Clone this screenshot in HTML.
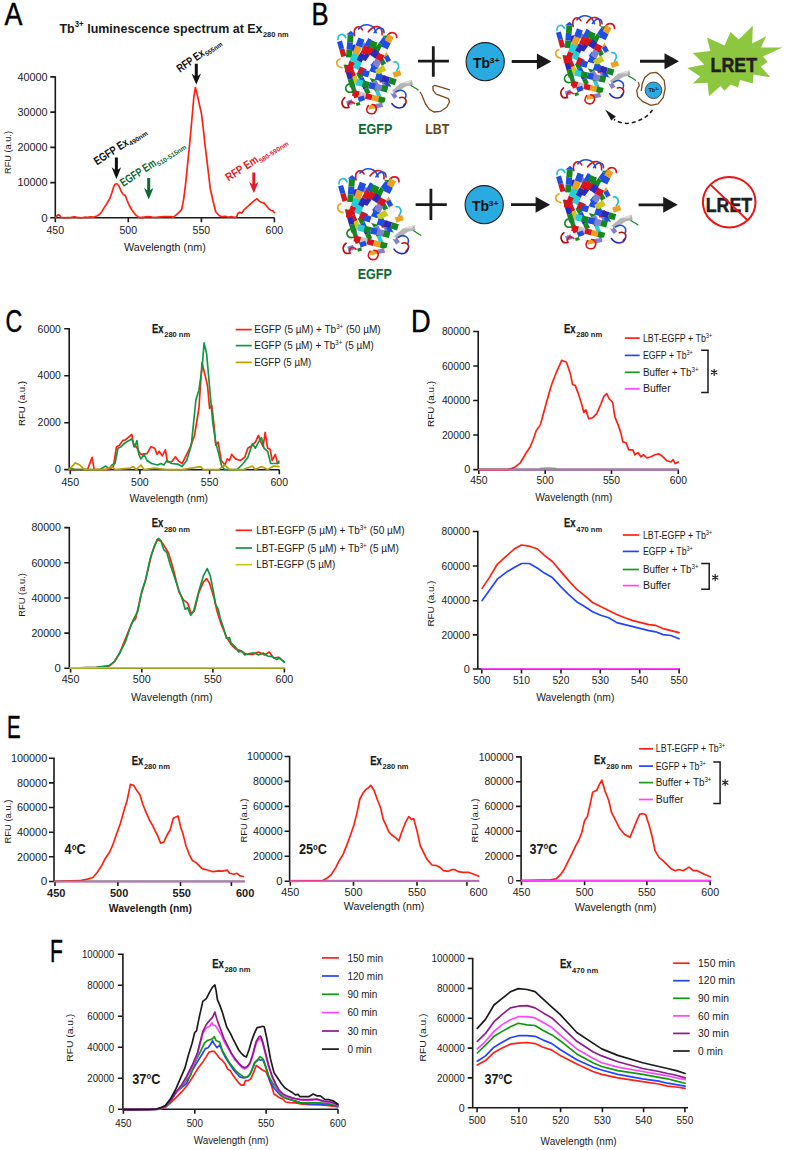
<!DOCTYPE html>
<html><head><meta charset="utf-8"><style>
html,body{margin:0;padding:0;background:#fff;}
svg{display:block;font-family:"Liberation Sans", sans-serif;}
</style></head><body>
<svg width="786" height="1150" viewBox="0 0 786 1150" fill="#1a1a1a">
<rect width="786" height="1150" fill="#fff"/>
<text x="0" y="0" font-size="32" stroke="#000" stroke-width="0.45" fill="#000" transform="translate(4.4,25.18) scale(0.84,0.986)">A</text>
<text x="59.5" y="32.6" font-size="13.4" font-weight="bold" textLength="203" lengthAdjust="spacingAndGlyphs">Tb<tspan font-size="8.5" dy="-5.4">3+</tspan><tspan dy="5.4"> luminescence spectrum at Ex</tspan></text>
<text x="263" y="37" font-size="7.5" font-weight="bold" textLength="25.5" lengthAdjust="spacingAndGlyphs">280 nm</text>
<path d="M55.3,76.2 L55.3,217.8 L274.4,217.8 M50.3,217.8 L55.3,217.8 M50.3,182.6 L55.3,182.6 M50.3,147.4 L55.3,147.4 M50.3,112.1 L55.3,112.1 M50.3,76.9 L55.3,76.9 M55.3,217.8 L55.3,222.3 M128.3,217.8 L128.3,222.3 M201.4,217.8 L201.4,222.3 M274.4,217.8 L274.4,222.3" fill="none" stroke="#1a1a1a" stroke-width="1.6"/>
<text x="47.6" y="221.5" font-size="10.3" text-anchor="end" textLength="6.4" lengthAdjust="spacingAndGlyphs" >0</text>
<text x="47.6" y="186.3" font-size="10.3" text-anchor="end" textLength="30.1" lengthAdjust="spacingAndGlyphs" >10000</text>
<text x="47.6" y="151.1" font-size="10.3" text-anchor="end" textLength="30.1" lengthAdjust="spacingAndGlyphs" >20000</text>
<text x="47.6" y="115.8" font-size="10.3" text-anchor="end" textLength="30.1" lengthAdjust="spacingAndGlyphs" >30000</text>
<text x="47.6" y="80.6" font-size="10.3" text-anchor="end" textLength="30.1" lengthAdjust="spacingAndGlyphs" >40000</text>
<text x="55.3" y="233.5" font-size="10.3" text-anchor="middle" textLength="17.6" lengthAdjust="spacingAndGlyphs" >450</text>
<text x="128.3" y="233.5" font-size="10.3" text-anchor="middle" textLength="17.6" lengthAdjust="spacingAndGlyphs" >500</text>
<text x="201.4" y="233.5" font-size="10.3" text-anchor="middle" textLength="17.6" lengthAdjust="spacingAndGlyphs" >550</text>
<text x="274.4" y="233.5" font-size="10.3" text-anchor="middle" textLength="17.6" lengthAdjust="spacingAndGlyphs" >600</text>
<text x="0" y="0" font-size="9.8" text-anchor="middle" textLength="43" lengthAdjust="spacingAndGlyphs" transform="translate(11.0,152.5) rotate(-90)">RFU (a.u.)</text>
<text x="164.9" y="250.6" font-size="10.4" text-anchor="middle" textLength="81.7" lengthAdjust="spacingAndGlyphs" >Wavelength (nm)</text>
<polyline points="55.4,217.8 57.0,215.7 58.4,214.7 59.8,215.5 61.1,217.2 63.1,217.8 71.2,217.4 74.3,216.7 77.4,217.4 81.4,217.8 84.5,217.2 87.5,217.4 90.6,216.9 93.6,217.2 97.3,215.7 99.7,214.3 101.8,211.7 104.2,207.6 106.9,203.5 109.9,198.4 112.0,192.3 113.6,187.2 115.0,184.2 117.0,183.8 119.1,186.2 121.1,191.3 123.2,194.4 125.2,195.4 127.2,200.5 129.3,205.5 132.3,210.6 135.4,214.7 138.4,217.2 142.5,217.8 142.0,217.4 148.1,216.7 152.2,217.2 156.3,217.4 160.4,216.9 164.4,216.7 170.5,216.7 173.6,217.2 177.7,213.7 181.7,209.6 183.8,198.4 185.8,182.1 187.8,161.8 189.9,141.4 191.9,119.0 193.9,96.6 195.4,87.5 197.0,93.6 199.0,102.7 201.5,113.9 203.1,127.2 205.1,145.5 207.6,165.9 210.2,188.2 212.9,200.5 215.7,211.7 219.4,215.7 222.4,216.7 225.5,216.3 228.5,217.2 231.6,216.7 234.7,217.4 236.7,216.7 237.7,213.7 239.7,212.3 241.8,213.1 243.8,210.2 245.9,208.2 249.9,204.5 254.0,200.9 257.0,198.8 259.7,201.5 262.1,202.5 264.2,203.1 266.2,205.5 268.7,208.6 270.7,210.2 272.7,210.6 274.4,212.7" fill="none" stroke="#ff2010" stroke-width="1.68" stroke-linejoin="round" stroke-linecap="round" />
<path d="M114.9,157.6 L114.9,169.7 L111.7,167.3 Q114.3,174.3 116.4,179.0 Q118.5,174.3 121.1,167.3 L117.9,169.7 L117.9,157.6 Z" fill="#111"/>
<path d="M194.8,63.7 L194.8,76.0 L191.6,73.6 Q194.2,80.2 196.3,84.4 Q198.4,80.2 201.0,73.6 L197.8,76.0 L197.8,63.7 Z" fill="#111"/>
<path d="M147.2,178.1 L147.2,190.2 L144.0,187.8 Q146.6,194.9 148.7,199.6 Q150.8,194.9 153.4,187.8 L150.2,190.2 L150.2,178.1 Z" fill="#0f6a37"/>
<path d="M252.3,172.5 L252.3,184.2 L249.1,181.8 Q251.7,188.6 253.8,193.0 Q255.9,188.6 258.5,181.8 L255.3,184.2 L255.3,172.5 Z" fill="#e31b2c"/>
<g transform="translate(97.0,165.4) rotate(-33)"><text x="0" y="0" font-size="11.5" font-weight="bold" fill="#111" textLength="38.5" lengthAdjust="spacingAndGlyphs">EGFP Ex</text><text x="38.9" y="2.2" font-size="6.6" font-weight="bold" fill="#111" textLength="21" lengthAdjust="spacingAndGlyphs">490nm</text></g>
<g transform="translate(123.3,187.0) rotate(-33)"><text x="0" y="0" font-size="11.5" font-weight="bold" fill="#0f6a37" textLength="40.5" lengthAdjust="spacingAndGlyphs">EGFP Em</text><text x="40.9" y="2.2" font-size="6.6" font-weight="bold" fill="#0f6a37" textLength="33.5" lengthAdjust="spacingAndGlyphs">510-515nm</text></g>
<g transform="translate(180.0,72.8) rotate(-35)"><text x="0" y="0" font-size="11.5" font-weight="bold" fill="#111" textLength="31" lengthAdjust="spacingAndGlyphs">RFP Ex</text><text x="31.4" y="2.2" font-size="6.6" font-weight="bold" fill="#111" textLength="19.5" lengthAdjust="spacingAndGlyphs">555nm</text></g>
<g transform="translate(228.6,181.5) rotate(-33)"><text x="0" y="0" font-size="11.5" font-weight="bold" fill="#e31b2c" textLength="36.5" lengthAdjust="spacingAndGlyphs">RFP Em</text><text x="36.9" y="2.2" font-size="6.6" font-weight="bold" fill="#e31b2c" textLength="34" lengthAdjust="spacingAndGlyphs">580-590nm</text></g>
<text x="0" y="0" font-size="32" stroke="#000" stroke-width="0.45" fill="#000" transform="translate(311.55,25.18) scale(0.8,0.993)">B</text>
<defs><g id="prot"><path d="M20,12 C18,3 25,0 28,6" fill="none" stroke="#d8141e" stroke-width="1.7" stroke-linecap="round"/><path d="M24,5 C30,-2 40,0 42,9" fill="none" stroke="#1f4fe0" stroke-width="1.7" stroke-linecap="round"/><path d="M34,8 C40,0 49,1 48,11" fill="none" stroke="#d8141e" stroke-width="1.7" stroke-linecap="round"/><path d="M40,9 C44,2 50,3 50,9" fill="none" stroke="#1f4fe0" stroke-width="1.7" stroke-linecap="round"/><path d="M3,16 C3,10 9,9 11,14" fill="none" stroke="#22c0d0" stroke-width="1.7" stroke-linecap="round"/><path d="M53,13 C56,7 63,8 63,14" fill="none" stroke="#d8141e" stroke-width="1.7" stroke-linecap="round"/><path d="M5,36 C0,38 1,44 7,45" fill="none" stroke="#f0a020" stroke-width="1.7" stroke-linecap="round"/><path d="M58,40 C64,37 67,43 63,48" fill="none" stroke="#22c0d0" stroke-width="1.7" stroke-linecap="round"/><path d="M10,76 C5,80 7,88 14,86" fill="none" stroke="#b01010" stroke-width="1.7" stroke-linecap="round"/><path d="M14,62 C9,64 10,72 18,70" fill="none" stroke="#14881f" stroke-width="1.7" stroke-linecap="round"/><path d="M28,60 C22,58 18,62 20,68" fill="none" stroke="#d8a080" stroke-width="1.7" stroke-linecap="round"/><polygon points="5.7,31.1 8.5,37.1 13.1,34.9 10.3,28.9" fill="#22d0d8"/><polygon points="8.5,37.1 11.3,43.1 15.9,40.9 13.1,34.9" fill="#14881f"/><polygon points="11.3,43.1 14.1,49.1 18.7,46.9 15.9,40.9" fill="#2a2ab8"/><polygon points="14.1,49.1 16.9,55.1 21.5,52.9 18.7,46.9" fill="#d8141e"/><polygon points="16.9,55.1 19.7,61.1 24.3,58.9 21.5,52.9" fill="#c8c820"/><polygon points="15.7,23.1 18.5,29.1 23.1,26.9 20.3,20.9" fill="#2a2ab8"/><polygon points="18.5,29.1 21.3,35.1 25.9,32.9 23.1,26.9" fill="#22d0d8"/><polygon points="21.3,35.1 24.1,41.1 28.7,38.9 25.9,32.9" fill="#f0a020"/><polygon points="24.1,41.1 26.9,47.1 31.5,44.9 28.7,38.9" fill="#1f4fe0"/><polygon points="26.9,47.1 29.7,53.1 34.3,50.9 31.5,44.9" fill="#f4f4f4"/><polygon points="25.8,21.1 28.8,27.1 33.2,24.9 30.2,18.9" fill="#8080d0"/><polygon points="28.8,27.1 31.8,33.1 36.2,30.9 33.2,24.9" fill="#14881f"/><polygon points="31.8,33.1 34.8,39.1 39.2,36.9 36.2,30.9" fill="#22d0d8"/><polygon points="34.8,39.1 37.8,45.1 42.2,42.9 39.2,36.9" fill="#1f4fe0"/><polygon points="35.8,21.2 38.8,26.7 43.2,24.3 40.2,18.8" fill="#14881f"/><polygon points="38.8,26.7 41.8,32.2 46.2,29.8 43.2,24.3" fill="#1f4fe0"/><polygon points="41.8,32.2 44.8,37.7 49.2,35.3 46.2,29.8" fill="#f4f4f4"/><polygon points="44.8,37.7 47.8,43.2 52.2,40.8 49.2,35.3" fill="#14881f"/><polygon points="43.8,23.2 46.8,28.7 51.2,26.3 48.2,20.8" fill="#f4f4f4"/><polygon points="46.8,28.7 49.8,34.2 54.2,31.8 51.2,26.3" fill="#f0a020"/><polygon points="49.8,34.2 52.8,39.7 57.2,37.3 54.2,31.8" fill="#1f4fe0"/><polygon points="52.8,39.7 55.8,45.2 60.2,42.8 57.2,37.3" fill="#f0a020"/><polygon points="21.7,51.0 24.2,56.5 28.8,54.5 26.3,49.0" fill="#14881f"/><polygon points="24.2,56.5 26.7,62.0 31.3,60.0 28.8,54.5" fill="#1f4fe0"/><polygon points="26.7,62.0 29.2,67.5 33.8,65.5 31.3,60.0" fill="#2a2ab8"/><polygon points="29.2,67.5 31.7,73.0 36.3,71.0 33.8,65.5" fill="#14881f"/><polygon points="31.8,49.2 34.8,54.7 39.2,52.3 36.2,46.8" fill="#f4f4f4"/><polygon points="34.8,54.7 37.8,60.2 42.2,57.8 39.2,52.3" fill="#14881f"/><polygon points="37.8,60.2 40.8,65.7 45.2,63.3 42.2,57.8" fill="#8080d0"/><polygon points="40.8,65.7 43.8,71.2 48.2,68.8 45.2,63.3" fill="#f4f4f4"/><polygon points="41.9,51.3 45.9,58.0 50.1,55.4 46.1,48.7" fill="#14881f"/><polygon points="45.9,58.0 49.9,64.6 54.1,62.0 50.1,55.4" fill="#8080d0"/><polygon points="49.9,64.6 53.9,71.3 58.1,68.7 54.1,62.0" fill="#1f4fe0"/><polygon points="13.9,58.8 16.6,66.1 20.8,64.6 18.1,57.2" fill="#1f4fe0"/><polygon points="16.6,66.1 19.2,73.4 23.4,71.9 20.8,64.6" fill="#22d0d8"/><polygon points="19.2,73.4 21.9,80.8 26.1,79.2 23.4,71.9" fill="#f4f4f4"/><polygon points="50.1,61.2 53.4,66.5 57.2,64.1 53.9,58.8" fill="#1f4fe0"/><polygon points="53.4,66.5 56.8,71.9 60.6,69.5 57.2,64.1" fill="#14881f"/><polygon points="56.8,71.9 60.1,77.2 63.9,74.8 60.6,69.5" fill="#8080d0"/><polygon points="26.0,83.4 24.0,76.7 20.0,77.9 22.0,84.6" fill="#14881f"/><polygon points="24.0,76.7 22.0,70.1 18.0,71.3 20.0,77.9" fill="#d8141e"/><polygon points="22.0,70.1 20.0,63.4 16.0,64.6 18.0,71.3" fill="#14881f"/><polygon points="49.9,81.2 47.3,74.6 43.4,76.1 46.1,82.8" fill="#f0a020"/><polygon points="47.3,74.6 44.6,67.9 40.7,69.4 43.4,76.1" fill="#22d0d8"/><polygon points="44.6,67.9 41.9,61.2 38.1,62.8 40.7,69.4" fill="#14881f"/><polygon points="20.3,64.0 18.1,56.2 13.1,57.6 15.3,65.4" fill="#14881f"/><polygon points="18.1,56.2 15.9,48.4 10.9,49.8 13.1,57.6" fill="#2a2ab8"/><polygon points="15.9,48.4 13.7,40.5 8.7,42.0 10.9,49.8" fill="#14881f"/><polygon points="13.7,40.5 11.5,32.7 6.5,34.1 8.7,42.0" fill="#f4f4f4"/><polygon points="11.5,32.7 9.3,24.9 4.3,26.3 6.5,34.1" fill="#d8141e"/><polygon points="9.3,24.9 7.1,17.1 2.1,18.5 4.3,26.3" fill="#1f4fe0"/><polygon points="16.0,50.2 16.6,42.4 10.6,42.0 10.0,49.8" fill="#d8141e"/><polygon points="16.6,42.4 17.2,34.6 11.2,34.2 10.6,42.0" fill="#f4f4f4"/><polygon points="17.2,34.6 17.8,26.8 11.8,26.4 11.2,34.2" fill="#14881f"/><polygon points="17.8,26.8 18.4,19.0 12.4,18.6 11.8,26.4" fill="#1f4fe0"/><polygon points="18.4,19.0 19.0,11.2 13.0,10.8 12.4,18.6" fill="#14881f"/><polygon points="20.5,11.3 16.3,7.0 11.5,10.7" fill="#1f4fe0"/><polygon points="18.1,48.2 21.1,40.2 14.9,37.8 11.9,45.8" fill="#d8141e"/><polygon points="21.1,40.2 24.1,32.2 17.9,29.8 14.9,37.8" fill="#22d0d8"/><polygon points="24.1,32.2 27.1,24.2 20.9,21.8 17.9,29.8" fill="#f0a020"/><polygon points="27.1,24.2 30.1,16.2 23.9,13.8 20.9,21.8" fill="#1f4fe0"/><polygon points="24.0,47.6 28.0,40.1 22.0,36.9 18.0,44.4" fill="#22d0d8"/><polygon points="28.0,40.1 32.0,32.6 26.0,29.4 22.0,36.9" fill="#2a2ab8"/><polygon points="32.0,32.6 36.0,25.1 30.0,21.9 26.0,29.4" fill="#d8141e"/><polygon points="36.0,25.1 40.0,17.6 34.0,14.4 30.0,21.9" fill="#1f4fe0"/><polygon points="29.3,53.4 32.2,46.5 25.5,43.8 22.7,50.6" fill="#d8141e"/><polygon points="32.2,46.5 35.0,39.7 28.3,37.0 25.5,43.8" fill="#f4f4f4"/><polygon points="35.0,39.7 37.8,32.9 31.2,30.1 28.3,37.0" fill="#2a2ab8"/><polygon points="37.8,32.9 40.7,26.0 34.0,23.3 31.2,30.1" fill="#d8141e"/><polygon points="40.7,26.0 43.5,19.2 36.8,16.5 34.0,23.3" fill="#14881f"/><polygon points="43.5,19.2 46.3,12.4 39.7,9.6 36.8,16.5" fill="#f4f4f4"/><polygon points="36.7,41.9 41.2,35.7 35.8,31.8 31.3,38.1" fill="#f4f4f4"/><polygon points="41.2,35.7 45.7,29.4 40.3,25.6 35.8,31.8" fill="#2a2ab8"/><polygon points="45.7,29.4 50.2,23.2 44.8,19.3 40.3,25.6" fill="#14881f"/><polygon points="50.2,23.2 54.7,16.9 49.3,13.1 44.8,19.3" fill="#1f4fe0"/><polygon points="56.0,17.9 54.3,11.8 48.0,12.1" fill="#14881f"/><polygon points="41.0,51.5 44.2,45.2 38.1,42.1 35.0,48.5" fill="#1f4fe0"/><polygon points="44.2,45.2 47.4,38.9 41.3,35.8 38.1,42.1" fill="#8080d0"/><polygon points="47.4,38.9 50.5,32.5 44.5,29.5 41.3,35.8" fill="#d8141e"/><polygon points="50.5,32.5 53.7,26.2 47.6,23.1 44.5,29.5" fill="#f4f4f4"/><polygon points="53.7,26.2 56.9,19.9 50.8,16.8 47.6,23.1" fill="#1f4fe0"/><polygon points="56.9,19.9 60.0,13.5 54.0,10.5 50.8,16.8" fill="#f0a020"/><polygon points="43.5,52.7 52.5,47.7 49.5,42.3 40.5,47.3" fill="#c8c820"/><polygon points="52.5,47.7 61.5,42.7 58.5,37.3 49.5,42.3" fill="#f4f4f4"/><polygon points="45.9,60.6 53.3,57.9 51.4,52.7 44.1,55.4" fill="#d8141e"/><polygon points="53.3,57.9 60.6,55.3 58.7,50.1 51.4,52.7" fill="#f4f4f4"/><polygon points="60.6,55.3 67.9,52.6 66.1,47.4 58.7,50.1" fill="#f0a020"/><polygon points="27.1,53.1 33.9,55.1 35.7,48.9 28.9,46.9" fill="#1f4fe0"/><polygon points="33.9,55.1 40.7,57.1 42.5,50.9 35.7,48.9" fill="#f4f4f4"/><polygon points="40.7,57.1 47.5,59.1 49.3,52.9 42.5,50.9" fill="#1f4fe0"/><polygon points="47.5,59.1 54.3,61.1 56.1,54.9 49.3,52.9" fill="#2a2ab8"/><polygon points="54.3,61.1 61.1,63.1 62.9,56.9 56.1,54.9" fill="#14881f"/><polygon points="21.3,63.2 27.6,64.7 29.1,58.3 22.7,56.8" fill="#22d0d8"/><polygon points="27.6,64.7 33.9,66.2 35.4,59.8 29.1,58.3" fill="#14881f"/><polygon points="33.9,66.2 40.3,67.7 41.7,61.3 35.4,59.8" fill="#1f4fe0"/><polygon points="40.3,67.7 46.6,69.2 48.1,62.8 41.7,61.3" fill="#8080d0"/><polygon points="46.6,69.2 52.9,70.7 54.4,64.3 48.1,62.8" fill="#14881f"/><polygon points="52.9,70.7 59.3,72.2 60.7,65.8 54.4,64.3" fill="#f4f4f4"/><polygon points="17.3,73.9 23.9,75.5 25.3,69.7 18.7,68.1" fill="#d8141e"/><polygon points="23.9,75.5 30.5,77.1 31.9,71.3 25.3,69.7" fill="#c4c4c4"/><polygon points="30.5,77.1 37.1,78.7 38.5,72.9 31.9,71.3" fill="#d8141e"/><polygon points="37.1,78.7 43.7,80.3 45.1,74.5 38.5,72.9" fill="#f0a020"/><polygon points="43.7,80.3 50.3,81.9 51.7,76.1 45.1,74.5" fill="#14881f"/><polygon points="12.8,84.4 18.8,82.4 17.2,77.6 11.2,79.6" fill="#8080d0"/><polygon points="18.8,82.4 24.8,80.4 23.2,75.6 17.2,77.6" fill="#f4f4f4"/><polygon points="24.8,80.4 30.8,78.4 29.2,73.6 23.2,75.6" fill="#1f4fe0"/><polygon points="34.4,88.2 41.7,86.9 40.9,82.5 33.6,83.8" fill="#f0a020"/><polygon points="41.7,86.9 49.1,85.5 48.3,81.1 40.9,82.5" fill="#8080d0"/><polygon points="49.1,85.5 56.4,84.2 55.6,79.8 48.3,81.1" fill="#f4f4f4"/><path d="M58,69 L67,61 L78.5,57.5 L79.5,63 L72,64.5 L63,71 Z" fill="#b4b4b4"/><path d="M67,61 L78.5,57.5 L76,61 Z" fill="#dcdcdc"/><path d="M77.2,63.2 C79,64.5 82,66 85.2,68.2" fill="none" stroke="#14881f" stroke-width="1.2"/><path d="M34,84 C30,90 34,94 40,92 C44,88 42,83 38,83" fill="none" stroke="#d8141e" stroke-width="1.6" stroke-linecap="round"/><path d="M20,82 C16,78 12,82 14,86" fill="none" stroke="#d8141e" stroke-width="1.6" stroke-linecap="round"/><path d="M62,70 C68,66 74,70 72,76" fill="none" stroke="#1f4fe0" stroke-width="1.6" stroke-linecap="round"/><path d="M66,76 C72,74 75,80 70,84" fill="none" stroke="#b01010" stroke-width="1.6" stroke-linecap="round"/><path d="M58,82 C62,88 70,88 72,82" fill="none" stroke="#2a2ab8" stroke-width="1.6" stroke-linecap="round"/></g></defs>
<use href="#prot" transform="translate(335,24) scale(0.98,0.97)"/>
<polyline points="420.2,92.2 421.7,94.8 425.5,104.0 429.4,109.4 433.9,112.0 440.8,111.3 446.9,107.0 449.6,101.7 448.4,98.7 442.3,96.4 436.2,94.1 433.2,90.6 432.8,86.5 434.7,85.3 440.8,87.2 449.6,89.9" fill="none" stroke="#7b4a1a" stroke-width="1.3" stroke-linejoin="round" stroke-linecap="round"/>
<path d="M418,61.2 H448.9 M433.3,46.3 V76.7" stroke="#1a1a1a" stroke-width="2.8"/>
<circle cx="485.2" cy="61.7" r="19.1" fill="#29abe2" stroke="#231f20" stroke-width="1.1"/>
<text x="472.9" y="67.8" font-size="13.8" font-weight="bold" fill="#111" textLength="17" lengthAdjust="spacingAndGlyphs">Tb</text>
<text x="489.6" y="62.9" font-size="7.8" font-weight="bold" fill="#111" textLength="10" lengthAdjust="spacingAndGlyphs">3+</text>
<path d="M511.7,60.0 H536.9 V53.5 L551.4,61.5 L536.9,69.5 V63.0 H511.7 Z" fill="#1a1a1a"/>
<text x="375.3" y="133.6" font-size="14.2" text-anchor="middle" font-weight="bold" fill="#0e6a36" textLength="34.3" lengthAdjust="spacingAndGlyphs" >EGFP</text>
<text x="437.3" y="133.6" font-size="14.2" text-anchor="middle" font-weight="bold" fill="#6e4318" textLength="24.0" lengthAdjust="spacingAndGlyphs" >LBT</text>
<use href="#prot" transform="translate(554,15) scale(0.96,0.96)"/>
<polyline points="638.3,82.4 639.3,85.4 636.7,90.5 637.7,96.6 642.8,101.7 651.0,105.3 658.1,103.8 663.2,97.7 665.2,88.5 664.2,80.4 660.1,75.3 656.1,72.4 650.0,73.2 644.9,77.3 642.3,83.4 641.3,90.5" fill="none" stroke="#7b4a1a" stroke-width="1.3" stroke-linejoin="round" stroke-linecap="round"/>
<circle cx="653.5" cy="90.3" r="8.3" fill="#29abe2" stroke="#231f20" stroke-width="0.7"/>
<text x="648.4" y="92.3" font-size="5.5" font-weight="bold" fill="#111">Tb<tspan font-size="3.5" dy="-2">3+</tspan></text>
<path d="M652.5,109.9 C648,117 640,121 630,123.2 C624,124 618,122 614,119.5" fill="none" stroke="#1a1a1a" stroke-width="1.5" stroke-dasharray="4,3"/>
<path d="M605.2,109.4 L615.9,116.5 L611.3,120.6 Z" fill="#1a1a1a"/>
<path d="M640.0,59.8 H664.5 V53.2 L679.0,61.2 L664.5,69.2 V62.7 H640.0 Z" fill="#1a1a1a"/>
<polygon points="707.0,37.5 724.5,45.6 730.6,31.9 738.7,39.6 752.8,25.7 752.2,43.6 766.3,36.2 760.9,47.6 782.5,47.6 762.9,56.4 767.7,61.8 760.9,66.5 770.4,77.3 753.5,74.6 752.8,83.4 740.0,80.0 738.0,87.4 730.6,84.5 724.5,90.8 720.5,86.1 709.0,96.2 707.6,82.7 692.8,83.4 700.2,76.6 687.4,67.9 704.3,64.5 692.8,53.0 710.3,51.0" fill="#8dc63f"/>
<text x="733.8" y="72.3" font-size="20" text-anchor="middle" font-weight="bold" fill="#231f20" textLength="46.5" lengthAdjust="spacingAndGlyphs" stroke="#231f20" stroke-width="0.5">LRET</text>
<use href="#prot" transform="translate(336,168) scale(1.0,0.99)"/>
<path d="M415.6,204.7 H446.8 M430.9,188.8 V220" stroke="#1a1a1a" stroke-width="2.8"/>
<circle cx="484.2" cy="204.7" r="19.1" fill="#29abe2" stroke="#231f20" stroke-width="1.1"/>
<text x="471.9" y="210.8" font-size="13.8" font-weight="bold" fill="#111" textLength="17" lengthAdjust="spacingAndGlyphs">Tb</text>
<text x="488.6" y="205.9" font-size="7.8" font-weight="bold" fill="#111" textLength="10" lengthAdjust="spacingAndGlyphs">3+</text>
<path d="M511.0,203.2 H535.6 V196.7 L550.1,204.7 L535.6,212.7 V206.1 H511.0 Z" fill="#1a1a1a"/>
<text x="374.8" y="279.3" font-size="14.2" text-anchor="middle" font-weight="bold" fill="#0e6a36" textLength="34.3" lengthAdjust="spacingAndGlyphs" >EGFP</text>
<use href="#prot" transform="translate(554,159) scale(0.99,0.97)"/>
<path d="M638.6,203.4 H663.2 V196.8 L677.7,204.8 L663.2,212.8 V206.2 H638.6 Z" fill="#1a1a1a"/>
<text x="728.9" y="212.3" font-size="21" text-anchor="middle" font-weight="bold" fill="#231f20" textLength="46.5" lengthAdjust="spacingAndGlyphs" stroke="#231f20" stroke-width="0.5">LRET</text>
<ellipse cx="729.2" cy="202.2" rx="26.3" ry="25.2" fill="none" stroke="#f01010" stroke-width="2"/>
<line x1="711" y1="185.1" x2="747.1" y2="219.9" stroke="#f01010" stroke-width="2"/>
<text x="0" y="0" font-size="32" stroke="#000" stroke-width="0.45" fill="#000" transform="translate(5.56,331.98) scale(0.727,0.993)">C</text>
<path d="M69.2,328.1 L69.2,469.8 L279.3,469.8 M64.2,469.6 L69.2,469.6 M64.2,422.7 L69.2,422.7 M64.2,375.7 L69.2,375.7 M64.2,328.8 L69.2,328.8 M70.3,469.8 L70.3,474.3 M139.9,469.8 L139.9,474.3 M209.6,469.8 L209.6,474.3 M279.3,469.8 L279.3,474.3" fill="none" stroke="#1a1a1a" stroke-width="1.6"/>
<text x="60.9" y="473.3" font-size="10.3" text-anchor="end" textLength="6.2" lengthAdjust="spacingAndGlyphs" >0</text>
<text x="60.9" y="426.4" font-size="10.3" text-anchor="end" textLength="23.3" lengthAdjust="spacingAndGlyphs" >2000</text>
<text x="60.9" y="379.4" font-size="10.3" text-anchor="end" textLength="23.3" lengthAdjust="spacingAndGlyphs" >4000</text>
<text x="60.9" y="332.5" font-size="10.3" text-anchor="end" textLength="23.3" lengthAdjust="spacingAndGlyphs" >6000</text>
<text x="70.3" y="485.6" font-size="10.3" text-anchor="middle" textLength="17.6" lengthAdjust="spacingAndGlyphs" >450</text>
<text x="139.9" y="485.6" font-size="10.3" text-anchor="middle" textLength="17.6" lengthAdjust="spacingAndGlyphs" >500</text>
<text x="209.6" y="485.6" font-size="10.3" text-anchor="middle" textLength="17.6" lengthAdjust="spacingAndGlyphs" >550</text>
<text x="279.3" y="485.6" font-size="10.3" text-anchor="middle" textLength="17.6" lengthAdjust="spacingAndGlyphs" >600</text>
<text x="0" y="0" font-size="9.8" text-anchor="middle" textLength="45.2" lengthAdjust="spacingAndGlyphs" transform="translate(24.9,403.5) rotate(-90)">RFU (a.u.)</text>
<text x="168.8" y="501.5" font-size="10.4" text-anchor="middle" textLength="78.5" lengthAdjust="spacingAndGlyphs" >Wavelength (nm)</text>
<text x="152.0" y="332.6" font-size="12.6" font-weight="bold" stroke="#1a1a1a" stroke-width="0.25" textLength="11.6" lengthAdjust="spacingAndGlyphs">Ex</text>
<text x="164.2" y="337.2" font-size="7.6" font-weight="bold" textLength="26" lengthAdjust="spacingAndGlyphs">280 nm</text>
<polyline points="69.2,469.6 87.5,469.6 92.1,457.4 94.2,469.6 108.9,469.6 113.4,466.6 116.5,446.7 119.5,445.2 122.6,440.6 125.6,439.7 131.8,434.5 133.9,446.7 136.3,446.7 138.8,451.3 140.9,454.4 147.0,453.7 151.0,446.7 154.7,448.2 157.1,454.4 159.2,451.3 162.3,455.9 165.3,449.8 167.5,462.0 171.5,462.0 175.4,456.8 178.5,461.1 182.1,463.5 185.2,457.4 189.8,448.2 194.4,436.0 198.9,408.5 202.0,362.7 205.0,375.0 207.5,385.6 209.6,408.5 211.8,405.5 214.2,426.9 215.7,445.2 218.2,442.1 221.2,460.5 224.9,465.0 227.3,458.9 229.5,460.5 231.6,454.4 235.6,458.9 240.2,460.5 244.7,457.4 247.8,448.2 252.4,445.2 255.4,442.1 258.5,435.4 260.9,442.1 263.1,446.7 265.2,432.4 267.6,448.2 270.1,449.2 272.2,460.5 275.3,454.4 277.4,463.5 278.9,462.9" fill="none" stroke="#ff2010" stroke-width="1.68" stroke-linejoin="round" stroke-linecap="round" />
<polyline points="69.2,468.1 75.3,469.6 90.5,469.6 99.7,469.6 105.8,466.0 108.9,469.0 111.9,465.0 115.0,463.5 118.0,448.2 121.1,446.7 124.1,443.7 127.2,441.5 131.8,439.1 134.8,446.7 136.9,440.6 138.8,454.4 140.9,458.9 144.0,454.4 147.0,460.5 151.6,463.5 157.7,465.0 160.8,463.5 163.8,465.0 166.9,460.5 171.5,463.5 177.6,464.1 182.1,466.6 186.7,460.5 191.3,445.2 195.9,400.0 198.9,390.2 202.0,368.9 204.1,342.9 206.6,353.6 209.6,387.2 212.7,422.3 215.7,442.1 218.8,454.4 221.8,466.6 224.9,469.6 231.0,469.6 237.1,469.6 243.2,463.5 247.8,457.4 252.4,443.7 255.4,448.2 258.5,442.1 261.5,437.6 264.0,448.2 267.6,451.3 270.7,463.5 273.7,463.5 277.4,463.5 278.9,461.1" fill="none" stroke="#0a9a40" stroke-width="1.68" stroke-linejoin="round" stroke-linecap="round" />
<polyline points="69.2,469.6 75.3,462.9 79.8,465.0 84.4,469.6 105.8,469.6 111.9,466.6 115.0,469.6 130.2,468.1 133.3,466.6 136.3,469.6 140.9,465.0 144.0,469.6 154.7,468.1 166.9,469.6 182.1,469.6 200.5,466.6 203.5,469.6 218.8,469.6 224.9,465.0 229.5,469.6 243.2,469.6 252.4,466.0 255.4,469.6 261.5,466.6 267.6,469.6 273.7,466.0 278.9,466.6" fill="none" stroke="#b8a000" stroke-width="1.68" stroke-linejoin="round" stroke-linecap="round" />
<line x1="235.7" y1="329.6" x2="251.8" y2="329.6" stroke="#ff2010" stroke-width="1.7"/>
<text x="254.3" y="333.2" font-size="10.3" textLength="126.3" lengthAdjust="spacingAndGlyphs">EGFP (5 µM) + Tb<tspan font-size="6.3" dy="-4">3+</tspan><tspan dy="4"> </tspan> (50 µM)</text>
<line x1="235.7" y1="345.6" x2="251.8" y2="345.6" stroke="#0a9a40" stroke-width="1.7"/>
<text x="254.3" y="349.2" font-size="10.3" textLength="119.5" lengthAdjust="spacingAndGlyphs">EGFP (5 µM) + Tb<tspan font-size="6.3" dy="-4">3+</tspan><tspan dy="4"> </tspan> (5 µM)</text>
<line x1="235.7" y1="362.4" x2="251.8" y2="362.4" stroke="#b8a000" stroke-width="1.7"/>
<text x="254.3" y="366.0" font-size="10.3" textLength="57.0" lengthAdjust="spacingAndGlyphs">EGFP (5 µM)</text>
<path d="M69.3,526.9 L69.3,668.1 L284.4,668.1 M64.3,668.3 L69.3,668.3 M64.3,633.1 L69.3,633.1 M64.3,598.0 L69.3,598.0 M64.3,562.8 L69.3,562.8 M64.3,527.6 L69.3,527.6 M70.6,668.1 L70.6,672.6 M141.8,668.1 L141.8,672.6 M212.9,668.1 L212.9,672.6 M284.4,668.1 L284.4,672.6" fill="none" stroke="#1a1a1a" stroke-width="1.6"/>
<text x="60.9" y="672.0" font-size="10.3" text-anchor="end" textLength="6.3" lengthAdjust="spacingAndGlyphs" >0</text>
<text x="60.9" y="636.8" font-size="10.3" text-anchor="end" textLength="29.5" lengthAdjust="spacingAndGlyphs" >20000</text>
<text x="60.9" y="601.7" font-size="10.3" text-anchor="end" textLength="29.5" lengthAdjust="spacingAndGlyphs" >40000</text>
<text x="60.9" y="566.5" font-size="10.3" text-anchor="end" textLength="29.5" lengthAdjust="spacingAndGlyphs" >60000</text>
<text x="60.9" y="531.3" font-size="10.3" text-anchor="end" textLength="29.5" lengthAdjust="spacingAndGlyphs" >80000</text>
<text x="70.6" y="683.3" font-size="10.3" text-anchor="middle" textLength="17.9" lengthAdjust="spacingAndGlyphs" >450</text>
<text x="141.8" y="683.3" font-size="10.3" text-anchor="middle" textLength="17.9" lengthAdjust="spacingAndGlyphs" >500</text>
<text x="212.9" y="683.3" font-size="10.3" text-anchor="middle" textLength="17.9" lengthAdjust="spacingAndGlyphs" >550</text>
<text x="284.4" y="683.3" font-size="10.3" text-anchor="middle" textLength="17.9" lengthAdjust="spacingAndGlyphs" >600</text>
<text x="0" y="0" font-size="9.8" text-anchor="middle" textLength="43.5" lengthAdjust="spacingAndGlyphs" transform="translate(25.1,594.9) rotate(-90)">RFU (a.u.)</text>
<text x="171.8" y="701.4" font-size="10.4" text-anchor="middle" textLength="81.6" lengthAdjust="spacingAndGlyphs" >Wavelength (nm)</text>
<text x="151.7" y="527.0" font-size="12.6" font-weight="bold" stroke="#1a1a1a" stroke-width="0.25" textLength="11.6" lengthAdjust="spacingAndGlyphs">Ex</text>
<text x="163.9" y="531.6" font-size="7.6" font-weight="bold" textLength="26" lengthAdjust="spacingAndGlyphs">280 nm</text>
<polyline points="70.7,668.2 96.6,667.3 108.9,666.3 113.4,662.7 119.5,653.5 125.6,638.2 131.8,623.0 135.7,618.4 140.9,595.5 145.5,580.2 151.6,554.3 157.1,539.6 160.8,541.1 163.8,545.1 168.4,552.7 173.0,568.0 179.1,592.4 183.7,600.1 187.6,603.1 191.3,613.8 194.4,610.8 198.9,592.4 203.5,581.8 206.6,578.7 209.6,583.3 214.2,598.5 217.3,612.3 221.8,626.0 226.4,636.7 231.0,644.4 235.6,648.9 240.2,650.5 246.3,654.1 252.4,654.4 258.5,652.0 264.6,655.0 269.2,652.0 273.7,658.1 278.3,657.2 284.4,662.1" fill="none" stroke="#ff2010" stroke-width="1.68" stroke-linejoin="round" stroke-linecap="round" />
<polyline points="70.7,668.2 96.6,667.3 108.9,665.7 115.0,661.1 121.1,650.5 125.6,641.3 130.2,627.6 133.3,619.9 137.9,610.8 141.8,590.9 145.5,580.2 150.1,558.9 154.7,545.1 158.3,538.4 160.8,540.5 163.8,549.7 166.9,552.7 169.9,563.4 174.5,577.2 179.1,590.9 182.1,598.5 185.2,609.2 187.6,607.7 190.7,615.3 193.7,610.8 198.9,590.9 203.5,575.6 207.2,568.6 210.2,575.6 213.3,590.9 215.7,604.7 218.2,609.2 220.3,618.4 223.4,627.6 226.4,638.2 229.5,637.6 231.0,642.8 235.6,647.4 238.6,652.0 241.7,651.1 244.7,655.0 249.3,653.5 253.9,652.9 258.5,655.0 263.1,652.9 267.6,656.0 272.2,656.6 276.8,659.6 279.8,658.1 284.4,662.1" fill="none" stroke="#0a9a40" stroke-width="1.68" stroke-linejoin="round" stroke-linecap="round" />
<polyline points="70.0,667.9 284.4,667.9" fill="none" stroke="#c8c820" stroke-width="1.79" stroke-linejoin="round" stroke-linecap="round" />
<line x1="235.6" y1="530.3" x2="252.0" y2="530.3" stroke="#ff2010" stroke-width="1.7"/>
<text x="256.2" y="533.9" font-size="10.3" textLength="148.4" lengthAdjust="spacingAndGlyphs">LBT-EGFP (5 µM) + Tb<tspan font-size="6.3" dy="-4">3+</tspan><tspan dy="4"> </tspan> (50 µM)</text>
<line x1="235.6" y1="548.0" x2="252.0" y2="548.0" stroke="#0a9a40" stroke-width="1.7"/>
<text x="256.2" y="551.6" font-size="10.3" textLength="142.6" lengthAdjust="spacingAndGlyphs">LBT-EGFP (5 µM) + Tb<tspan font-size="6.3" dy="-4">3+</tspan><tspan dy="4"> </tspan> (5 µM)</text>
<line x1="235.6" y1="564.7" x2="252.0" y2="564.7" stroke="#c8c820" stroke-width="1.7"/>
<text x="256.2" y="568.3" font-size="10.3" textLength="79.2" lengthAdjust="spacingAndGlyphs">LBT-EGFP (5 µM)</text>
<text x="0" y="0" font-size="32" stroke="#000" stroke-width="0.45" fill="#000" transform="translate(411.02,331.68) scale(0.851,0.965)">D</text>
<path d="M478.2,330.8 L478.2,469.6 L678.3,469.6 M473.2,469.6 L478.2,469.6 M473.2,435.0 L478.2,435.0 M473.2,400.5 L478.2,400.5 M473.2,366.0 L478.2,366.0 M473.2,331.5 L478.2,331.5 M478.8,469.6 L478.8,474.1 M545.2,469.6 L545.2,474.1 M611.5,469.6 L611.5,474.1 M678.3,469.6 L678.3,474.1" fill="none" stroke="#1a1a1a" stroke-width="1.6"/>
<text x="470.3" y="473.3" font-size="10.3" text-anchor="end" textLength="6.1" lengthAdjust="spacingAndGlyphs" >0</text>
<text x="470.3" y="438.7" font-size="10.3" text-anchor="end" textLength="28.4" lengthAdjust="spacingAndGlyphs" >20000</text>
<text x="470.3" y="404.2" font-size="10.3" text-anchor="end" textLength="28.4" lengthAdjust="spacingAndGlyphs" >40000</text>
<text x="470.3" y="369.7" font-size="10.3" text-anchor="end" textLength="28.4" lengthAdjust="spacingAndGlyphs" >60000</text>
<text x="470.3" y="335.2" font-size="10.3" text-anchor="end" textLength="28.4" lengthAdjust="spacingAndGlyphs" >80000</text>
<text x="478.8" y="484.2" font-size="10.3" text-anchor="middle" textLength="17.2" lengthAdjust="spacingAndGlyphs" >450</text>
<text x="545.2" y="484.2" font-size="10.3" text-anchor="middle" textLength="17.2" lengthAdjust="spacingAndGlyphs" >500</text>
<text x="611.5" y="484.2" font-size="10.3" text-anchor="middle" textLength="17.2" lengthAdjust="spacingAndGlyphs" >550</text>
<text x="678.3" y="484.2" font-size="10.3" text-anchor="middle" textLength="17.2" lengthAdjust="spacingAndGlyphs" >600</text>
<text x="0" y="0" font-size="9.8" text-anchor="middle" textLength="46" lengthAdjust="spacingAndGlyphs" transform="translate(433.7,403.9) rotate(-90)">RFU (a.u.)</text>
<text x="573.8" y="501.1" font-size="10.4" text-anchor="middle" textLength="77.0" lengthAdjust="spacingAndGlyphs" >Wavelength (nm)</text>
<text x="564.0" y="332.6" font-size="12.6" font-weight="bold" stroke="#1a1a1a" stroke-width="0.25" textLength="11.6" lengthAdjust="spacingAndGlyphs">Ex</text>
<text x="576.2" y="337.2" font-size="7.6" font-weight="bold" textLength="26" lengthAdjust="spacingAndGlyphs">280 nm</text>
<polyline points="478.8,469.6 508.2,469.6 514.2,467.6 520.3,462.8 526.3,452.7 530.3,446.7 533.5,438.7 536.3,430.6 540.4,424.6 543.2,414.5 546.4,402.5 550.4,388.4 552.4,382.4 556.4,372.3 561.7,360.3 566.5,362.3 570.5,374.3 572.5,384.4 575.3,385.6 578.6,394.4 581.8,404.5 583.8,412.5 585.8,409.7 588.6,418.6 592.6,417.8 596.7,413.7 600.7,404.5 603.9,396.4 606.7,393.6 609.1,398.5 612.7,402.5 614.8,416.6 618.0,424.6 620.8,432.6 622.8,441.9 626.0,442.7 628.8,449.9 632.8,449.9 634.9,454.8 638.1,452.7 640.9,456.8 643.7,454.8 646.9,458.0 650.9,456.8 655.0,454.8 659.0,453.9 663.0,456.8 667.0,460.8 671.0,462.0 673.1,459.6 675.1,463.6 678.3,462.0" fill="none" stroke="#ff2010" stroke-width="1.68" stroke-linejoin="round" stroke-linecap="round" />
<polyline points="478.8,468.4 678.3,468.4" fill="none" stroke="#1a9a1a" stroke-width="1.01" stroke-linejoin="round" stroke-linecap="round" opacity="0.3"/>
<polyline points="540.0,468.3 548.0,467.6 556.0,468.3" fill="none" stroke="#1a9a1a" stroke-width="1.34" stroke-linejoin="round" stroke-linecap="round" opacity="0.6"/>
<polyline points="478.8,469.5 678.3,469.5" fill="none" stroke="#ff44ff" stroke-width="1.51" stroke-linejoin="round" stroke-linecap="round" />
<line x1="624.8" y1="338.1" x2="639.7" y2="338.1" stroke="#ff2010" stroke-width="1.7"/>
<text x="642.9" y="341.7" font-size="10" textLength="69.3" lengthAdjust="spacingAndGlyphs">LBT-EGFP + Tb<tspan font-size="6.3" dy="-4">3+</tspan></text>
<line x1="624.8" y1="355.4" x2="639.7" y2="355.4" stroke="#2244ff" stroke-width="1.7"/>
<text x="642.9" y="359.0" font-size="10" textLength="49.9" lengthAdjust="spacingAndGlyphs">EGFP + Tb<tspan font-size="6.3" dy="-4">3+</tspan></text>
<line x1="624.8" y1="372.3" x2="639.7" y2="372.3" stroke="#1a9a1a" stroke-width="1.7"/>
<text x="642.9" y="375.9" font-size="10" textLength="55.7" lengthAdjust="spacingAndGlyphs">Buffer + Tb<tspan font-size="6.3" dy="-4">3+</tspan></text>
<line x1="624.8" y1="388.8" x2="639.7" y2="388.8" stroke="#ff44ff" stroke-width="1.7"/>
<text x="642.9" y="392.4" font-size="10" textLength="27.8" lengthAdjust="spacingAndGlyphs">Buffer</text>
<path d="M701.2,350.2 L708.0,350.2 L708.0,392.4 L701.2,392.4" fill="none" stroke="#1a1a1a" stroke-width="1.5"/>
<path d="M714.20,369.20 L714.20,375.40 M711.52,370.75 L716.88,373.85 M716.88,370.75 L711.52,373.85 " stroke="#1a1a1a" stroke-width="1.15" fill="none" stroke-linecap="round"/>
<path d="M477.8,530.8 L477.8,669.0 L680.0,669.0 M472.8,669.0 L477.8,669.0 M472.8,634.9 L477.8,634.9 M472.8,600.7 L477.8,600.7 M472.8,566.0 L477.8,566.0 M472.8,531.5 L477.8,531.5 M481.8,669.0 L481.8,673.5 M521.5,669.0 L521.5,673.5 M561.0,669.0 L561.0,673.5 M600.3,669.0 L600.3,673.5 M639.7,669.0 L639.7,673.5 M679.1,669.0 L679.1,673.5" fill="none" stroke="#1a1a1a" stroke-width="1.6"/>
<text x="469.9" y="672.7" font-size="10.3" text-anchor="end" textLength="6.1" lengthAdjust="spacingAndGlyphs" >0</text>
<text x="469.9" y="638.6" font-size="10.3" text-anchor="end" textLength="28.4" lengthAdjust="spacingAndGlyphs" >20000</text>
<text x="469.9" y="604.4" font-size="10.3" text-anchor="end" textLength="28.4" lengthAdjust="spacingAndGlyphs" >40000</text>
<text x="469.9" y="569.7" font-size="10.3" text-anchor="end" textLength="28.4" lengthAdjust="spacingAndGlyphs" >60000</text>
<text x="469.9" y="535.2" font-size="10.3" text-anchor="end" textLength="28.4" lengthAdjust="spacingAndGlyphs" >80000</text>
<text x="481.8" y="684.1" font-size="10.3" text-anchor="middle" textLength="17.2" lengthAdjust="spacingAndGlyphs" >500</text>
<text x="521.5" y="684.1" font-size="10.3" text-anchor="middle" textLength="17.2" lengthAdjust="spacingAndGlyphs" >510</text>
<text x="561.0" y="684.1" font-size="10.3" text-anchor="middle" textLength="17.2" lengthAdjust="spacingAndGlyphs" >520</text>
<text x="600.3" y="684.1" font-size="10.3" text-anchor="middle" textLength="17.2" lengthAdjust="spacingAndGlyphs" >530</text>
<text x="639.7" y="684.1" font-size="10.3" text-anchor="middle" textLength="17.2" lengthAdjust="spacingAndGlyphs" >540</text>
<text x="679.1" y="684.1" font-size="10.3" text-anchor="middle" textLength="17.2" lengthAdjust="spacingAndGlyphs" >550</text>
<text x="0" y="0" font-size="9.8" text-anchor="middle" textLength="46" lengthAdjust="spacingAndGlyphs" transform="translate(433.7,603.6) rotate(-90)">RFU (a.u.)</text>
<text x="575.3" y="700.5" font-size="10.4" text-anchor="middle" textLength="78.1" lengthAdjust="spacingAndGlyphs" >Wavelength (nm)</text>
<text x="564.0" y="526.9" font-size="12.6" font-weight="bold" stroke="#1a1a1a" stroke-width="0.25" textLength="11.6" lengthAdjust="spacingAndGlyphs">Ex</text>
<text x="576.2" y="531.5" font-size="7.6" font-weight="bold" textLength="26" lengthAdjust="spacingAndGlyphs">470 nm</text>
<polyline points="481.8,668.8 679.1,668.8" fill="none" stroke="#ff44ff" stroke-width="1.51" stroke-linejoin="round" stroke-linecap="round" />
<polyline points="482.1,600.5 489.3,590.4 497.3,579.2 506.2,572.3 514.2,567.5 521.5,563.5 529.5,563.5 537.6,568.3 544.4,573.1 552.4,577.6 560.5,586.4 568.5,594.4 576.6,601.7 584.6,606.5 592.6,611.7 600.7,615.3 608.7,617.8 616.8,622.6 624.8,624.6 632.8,626.6 640.9,628.6 648.9,630.6 655.8,631.8 663.0,634.6 671.0,635.5 679.1,638.7" fill="none" stroke="#2244ff" stroke-width="1.68" stroke-linejoin="round" stroke-linecap="round" />
<polyline points="482.1,588.4 489.3,577.6 497.3,564.3 506.2,556.2 514.2,549.0 521.5,545.0 529.5,546.2 537.6,549.0 544.4,555.4 552.4,561.5 560.5,571.1 568.5,580.4 576.6,589.2 584.6,595.6 592.6,602.5 600.7,606.5 608.7,610.5 616.8,614.5 624.8,617.8 632.8,620.6 640.9,622.6 648.9,624.6 655.8,625.4 663.0,628.6 671.0,630.6 679.1,632.6" fill="none" stroke="#ff2010" stroke-width="1.68" stroke-linejoin="round" stroke-linecap="round" />
<line x1="622.8" y1="535.0" x2="638.9" y2="535.0" stroke="#ff2010" stroke-width="1.7"/>
<text x="642.9" y="538.6" font-size="10" textLength="69.3" lengthAdjust="spacingAndGlyphs">LBT-EGFP + Tb<tspan font-size="6.3" dy="-4">3+</tspan></text>
<line x1="622.8" y1="551.4" x2="638.9" y2="551.4" stroke="#2244ff" stroke-width="1.7"/>
<text x="642.9" y="555.0" font-size="10" textLength="49.9" lengthAdjust="spacingAndGlyphs">EGFP + Tb<tspan font-size="6.3" dy="-4">3+</tspan></text>
<line x1="622.8" y1="569.5" x2="638.9" y2="569.5" stroke="#1a9a1a" stroke-width="1.7"/>
<text x="642.9" y="573.1" font-size="10" textLength="55.7" lengthAdjust="spacingAndGlyphs">Buffer + Tb<tspan font-size="6.3" dy="-4">3+</tspan></text>
<line x1="622.8" y1="585.6" x2="638.9" y2="585.6" stroke="#ff44ff" stroke-width="1.7"/>
<text x="642.9" y="589.2" font-size="10" textLength="27.8" lengthAdjust="spacingAndGlyphs">Buffer</text>
<path d="M701.2,563.5 L709.2,563.5 L709.2,589.2 L701.2,589.2" fill="none" stroke="#1a1a1a" stroke-width="1.5"/>
<path d="M715.20,574.40 L715.20,580.60 M712.52,575.95 L717.88,579.05 M717.88,575.95 L712.52,579.05 " stroke="#1a1a1a" stroke-width="1.15" fill="none" stroke-linecap="round"/>
<text x="0" y="0" font-size="32" stroke="#000" stroke-width="0.45" fill="#000" transform="translate(6.97,738.48) scale(0.641,0.993)">E</text>
<path d="M54.0,757.5 L54.0,881.5 L244.5,881.5 M49.0,881.5 L54.0,881.5 M49.0,856.8 L54.0,856.8 M49.0,832.2 L54.0,832.2 M49.0,807.5 L54.0,807.5 M49.0,782.9 L54.0,782.9 M49.0,758.2 L54.0,758.2 M55.0,881.5 L55.0,886.0 M117.9,881.5 L117.9,886.0 M180.5,881.5 L180.5,886.0 M231.4,881.5 L231.4,886.0" fill="none" stroke="#1a1a1a" stroke-width="1.6"/>
<text x="47.2" y="885.2" font-size="10.3" text-anchor="end" textLength="6.5" lengthAdjust="spacingAndGlyphs" >0</text>
<text x="47.2" y="860.5" font-size="10.3" text-anchor="end" textLength="30.2" lengthAdjust="spacingAndGlyphs" >20000</text>
<text x="47.2" y="835.9" font-size="10.3" text-anchor="end" textLength="30.2" lengthAdjust="spacingAndGlyphs" >40000</text>
<text x="47.2" y="811.2" font-size="10.3" text-anchor="end" textLength="30.2" lengthAdjust="spacingAndGlyphs" >60000</text>
<text x="47.2" y="786.6" font-size="10.3" text-anchor="end" textLength="30.2" lengthAdjust="spacingAndGlyphs" >80000</text>
<text x="47.2" y="761.9" font-size="10.3" text-anchor="end" textLength="36.2" lengthAdjust="spacingAndGlyphs" >100000</text>
<text x="56.2" y="896.8" font-size="10.3" text-anchor="middle" font-weight="bold" textLength="18.4" lengthAdjust="spacingAndGlyphs" >450</text>
<text x="119.1" y="896.8" font-size="10.3" text-anchor="middle" font-weight="bold" textLength="18.4" lengthAdjust="spacingAndGlyphs" >500</text>
<text x="181.7" y="896.8" font-size="10.3" text-anchor="middle" font-weight="bold" textLength="18.4" lengthAdjust="spacingAndGlyphs" >550</text>
<text x="245.1" y="896.8" font-size="10.3" text-anchor="middle" font-weight="bold" textLength="18.4" lengthAdjust="spacingAndGlyphs" >600</text>
<text x="0" y="0" font-size="9.8" text-anchor="middle" textLength="44" lengthAdjust="spacingAndGlyphs" transform="translate(11.0,821.6) rotate(-90)">RFU (a.u.)</text>
<text x="150.4" y="911.7" font-size="10.4" text-anchor="middle" font-weight="bold" textLength="83.1" lengthAdjust="spacingAndGlyphs" >Wavelength (nm)</text>
<text x="131.7" y="764.6" font-size="12.6" font-weight="bold" stroke="#1a1a1a" stroke-width="0.25" textLength="11.6" lengthAdjust="spacingAndGlyphs">Ex</text>
<text x="143.9" y="769.2" font-size="7.6" font-weight="bold" textLength="26" lengthAdjust="spacingAndGlyphs">280 nm</text>
<text x="64.6" y="854.3" font-size="14" font-weight="bold" textLength="21" lengthAdjust="spacingAndGlyphs">4<tspan font-size="8.6" dy="-4.6">o</tspan><tspan dy="4.6">C</tspan></text>
<polyline points="54.7,881.3 79.5,880.7 87.5,879.1 92.9,877.5 97.0,872.7 101.8,865.4 105.0,859.0 109.7,852.0 112.9,844.7 116.1,835.2 120.2,824.0 122.5,816.1 124.7,808.1 127.2,800.2 130.4,784.3 133.6,785.2 136.8,790.6 139.9,794.8 143.1,805.0 146.3,812.9 149.5,820.2 152.7,825.6 155.2,831.0 157.4,835.2 160.6,843.1 163.8,842.2 167.0,835.2 170.2,829.8 173.3,818.3 178.1,816.1 180.7,827.2 182.9,833.6 186.1,846.3 189.2,854.3 192.4,860.6 195.6,862.2 198.8,865.4 202.0,868.6 208.3,870.2 213.1,871.8 216.3,871.1 219.5,870.8 222.6,871.1 227.4,870.2 229.6,873.3 233.8,874.3 237.0,873.3 240.1,875.9 243.3,876.5" fill="none" stroke="#ff2010" stroke-width="1.68" stroke-linejoin="round" stroke-linecap="round" />
<polyline points="54.5,880.4 244.5,880.4" fill="none" stroke="#1a9a1a" stroke-width="1.01" stroke-linejoin="round" stroke-linecap="round" opacity="0.3"/>
<polyline points="54.5,881.5 244.5,881.5" fill="none" stroke="#ff44ff" stroke-width="1.46" stroke-linejoin="round" stroke-linecap="round" />
<path d="M289.6,755.8 L289.6,881.2 L479.0,881.2 M284.6,881.2 L289.6,881.2 M284.6,856.3 L289.6,856.3 M284.6,831.3 L289.6,831.3 M284.6,806.4 L289.6,806.4 M284.6,781.4 L289.6,781.4 M284.6,756.5 L289.6,756.5 M290.3,881.2 L290.3,885.7 M353.5,881.2 L353.5,885.7 M417.0,881.2 L417.0,885.7 M466.9,881.2 L466.9,885.7" fill="none" stroke="#1a1a1a" stroke-width="1.6"/>
<text x="282.6" y="884.9" font-size="10.3" text-anchor="end" textLength="6.3" lengthAdjust="spacingAndGlyphs" >0</text>
<text x="282.6" y="860.0" font-size="10.3" text-anchor="end" textLength="29.6" lengthAdjust="spacingAndGlyphs" >20000</text>
<text x="282.6" y="835.0" font-size="10.3" text-anchor="end" textLength="29.6" lengthAdjust="spacingAndGlyphs" >40000</text>
<text x="282.6" y="810.1" font-size="10.3" text-anchor="end" textLength="29.6" lengthAdjust="spacingAndGlyphs" >60000</text>
<text x="282.6" y="785.1" font-size="10.3" text-anchor="end" textLength="29.6" lengthAdjust="spacingAndGlyphs" >80000</text>
<text x="282.6" y="760.2" font-size="10.3" text-anchor="end" textLength="35.5" lengthAdjust="spacingAndGlyphs" >100000</text>
<text x="290.3" y="896.1" font-size="10.3" text-anchor="middle" textLength="18.0" lengthAdjust="spacingAndGlyphs" >450</text>
<text x="353.5" y="896.1" font-size="10.3" text-anchor="middle" textLength="18.0" lengthAdjust="spacingAndGlyphs" >500</text>
<text x="417.0" y="896.1" font-size="10.3" text-anchor="middle" textLength="18.0" lengthAdjust="spacingAndGlyphs" >550</text>
<text x="478.6" y="896.1" font-size="10.3" text-anchor="middle" textLength="18.0" lengthAdjust="spacingAndGlyphs" >600</text>
<text x="0" y="0" font-size="9.8" text-anchor="middle" textLength="44" lengthAdjust="spacingAndGlyphs" transform="translate(246.5,820.6) rotate(-90)">RFU (a.u.)</text>
<text x="384.1" y="910.1" font-size="10.4" text-anchor="middle" textLength="80.6" lengthAdjust="spacingAndGlyphs" >Wavelength (nm)</text>
<text x="370.3" y="764.8" font-size="12.6" font-weight="bold" stroke="#1a1a1a" stroke-width="0.25" textLength="11.6" lengthAdjust="spacingAndGlyphs">Ex</text>
<text x="382.5" y="769.4" font-size="7.6" font-weight="bold" textLength="26" lengthAdjust="spacingAndGlyphs">280 nm</text>
<text x="298.9" y="854.1" font-size="14" font-weight="bold" textLength="28" lengthAdjust="spacingAndGlyphs">25<tspan font-size="8.6" dy="-4.6">o</tspan><tspan dy="4.6">C</tspan></text>
<polyline points="290.3,881.3 322.7,880.6 326.7,878.3 331.0,875.0 335.9,867.4 339.2,860.7 343.2,854.1 346.5,845.9 350.8,834.3 354.1,824.4 357.4,811.1 359.7,799.5 363.1,792.9 366.4,789.0 368.3,788.0 370.7,785.3 374.0,790.3 377.3,799.5 380.6,807.8 383.2,819.4 385.6,824.4 388.9,832.0 392.2,835.3 395.5,837.6 398.8,840.9 402.1,831.0 405.4,822.7 408.7,816.7 411.4,819.4 413.7,818.7 417.0,831.0 420.3,845.9 423.6,852.5 426.9,859.1 431.9,865.0 436.8,865.7 440.1,867.4 443.4,870.7 448.4,871.3 451.7,869.7 455.0,869.7 458.3,871.7 463.3,872.3 468.3,872.3 473.2,874.0 478.8,876.3" fill="none" stroke="#ff2010" stroke-width="1.68" stroke-linejoin="round" stroke-linecap="round" />
<polyline points="290.1,880.1 479.0,880.1" fill="none" stroke="#1a9a1a" stroke-width="1.01" stroke-linejoin="round" stroke-linecap="round" opacity="0.3"/>
<polyline points="290.1,881.2 479.0,881.2" fill="none" stroke="#ff44ff" stroke-width="1.46" stroke-linejoin="round" stroke-linecap="round" />
<path d="M521.1,756.2 L521.1,880.7 L711.0,880.7 M516.1,880.7 L521.1,880.7 M516.1,855.9 L521.1,855.9 M516.1,831.2 L521.1,831.2 M516.1,806.4 L521.1,806.4 M516.1,781.7 L521.1,781.7 M516.1,756.9 L521.1,756.9 M521.5,880.7 L521.5,885.2 M584.6,880.7 L584.6,885.2 M646.9,880.7 L646.9,885.2 M710.2,880.7 L710.2,885.2" fill="none" stroke="#1a1a1a" stroke-width="1.6"/>
<text x="513.6" y="884.4" font-size="10.3" text-anchor="end" textLength="6.2" lengthAdjust="spacingAndGlyphs" >0</text>
<text x="513.6" y="859.6" font-size="10.3" text-anchor="end" textLength="29.2" lengthAdjust="spacingAndGlyphs" >20000</text>
<text x="513.6" y="834.9" font-size="10.3" text-anchor="end" textLength="29.2" lengthAdjust="spacingAndGlyphs" >40000</text>
<text x="513.6" y="810.1" font-size="10.3" text-anchor="end" textLength="29.2" lengthAdjust="spacingAndGlyphs" >60000</text>
<text x="513.6" y="785.4" font-size="10.3" text-anchor="end" textLength="29.2" lengthAdjust="spacingAndGlyphs" >80000</text>
<text x="513.6" y="760.6" font-size="10.3" text-anchor="end" textLength="34.9" lengthAdjust="spacingAndGlyphs" >100000</text>
<text x="521.5" y="895.7" font-size="10.3" text-anchor="middle" textLength="17.7" lengthAdjust="spacingAndGlyphs" >450</text>
<text x="584.6" y="895.7" font-size="10.3" text-anchor="middle" textLength="17.7" lengthAdjust="spacingAndGlyphs" >500</text>
<text x="646.9" y="895.7" font-size="10.3" text-anchor="middle" textLength="17.7" lengthAdjust="spacingAndGlyphs" >550</text>
<text x="710.2" y="895.7" font-size="10.3" text-anchor="middle" textLength="17.7" lengthAdjust="spacingAndGlyphs" >600</text>
<text x="0" y="0" font-size="9.8" text-anchor="middle" textLength="44" lengthAdjust="spacingAndGlyphs" transform="translate(478.0,820.6) rotate(-90)">RFU (a.u.)</text>
<text x="615.5" y="910.7" font-size="10.4" text-anchor="middle" textLength="81.6" lengthAdjust="spacingAndGlyphs" >Wavelength (nm)</text>
<text x="594.1" y="764.1" font-size="12.6" font-weight="bold" stroke="#1a1a1a" stroke-width="0.25" textLength="11.6" lengthAdjust="spacingAndGlyphs">Ex</text>
<text x="606.3" y="768.7" font-size="7.6" font-weight="bold" textLength="26" lengthAdjust="spacingAndGlyphs">280 nm</text>
<text x="529.5" y="853.8" font-size="14" font-weight="bold" textLength="28" lengthAdjust="spacingAndGlyphs">37<tspan font-size="8.6" dy="-4.6">o</tspan><tspan dy="4.6">C</tspan></text>
<polyline points="521.5,880.7 550.4,879.9 556.4,878.7 560.5,874.7 564.5,868.7 568.5,860.6 572.5,852.6 575.3,846.6 578.6,840.5 581.8,832.5 584.6,820.4 587.4,816.4 590.6,802.3 592.6,792.3 596.7,790.3 599.5,784.2 601.9,780.2 604.7,790.3 608.7,800.3 611.5,812.4 615.6,820.4 619.6,828.5 624.8,834.5 630.0,837.3 632.8,830.5 636.9,820.4 639.7,814.4 642.9,813.6 645.7,814.8 648.9,824.4 652.1,836.5 655.0,850.6 659.0,857.4 663.0,860.6 667.0,864.6 671.0,868.7 675.1,870.7 679.1,869.5 683.1,870.7 689.1,867.1 693.2,870.7 697.2,870.7 701.2,872.7 705.2,874.7 710.5,876.7" fill="none" stroke="#ff2010" stroke-width="1.68" stroke-linejoin="round" stroke-linecap="round" />
<polyline points="521.6,879.6 711.0,879.6" fill="none" stroke="#1a9a1a" stroke-width="1.01" stroke-linejoin="round" stroke-linecap="round" opacity="0.3"/>
<polyline points="521.6,880.7 711.0,880.7" fill="none" stroke="#ff44ff" stroke-width="1.46" stroke-linejoin="round" stroke-linecap="round" />
<line x1="638.9" y1="748.8" x2="653.0" y2="748.8" stroke="#ff2010" stroke-width="1.7"/>
<text x="655.8" y="752.4" font-size="10" textLength="69.3" lengthAdjust="spacingAndGlyphs">LBT-EGFP + Tb<tspan font-size="6.3" dy="-4">3+</tspan></text>
<line x1="638.9" y1="766.1" x2="653.0" y2="766.1" stroke="#2244ff" stroke-width="1.7"/>
<text x="655.8" y="769.7" font-size="10" textLength="49.9" lengthAdjust="spacingAndGlyphs">EGFP + Tb<tspan font-size="6.3" dy="-4">3+</tspan></text>
<line x1="638.9" y1="782.6" x2="653.0" y2="782.6" stroke="#1a9a1a" stroke-width="1.7"/>
<text x="655.8" y="786.2" font-size="10" textLength="55.7" lengthAdjust="spacingAndGlyphs">Buffer + Tb<tspan font-size="6.3" dy="-4">3+</tspan></text>
<line x1="638.9" y1="799.5" x2="653.0" y2="799.5" stroke="#ff44ff" stroke-width="1.7"/>
<text x="655.8" y="803.1" font-size="10" textLength="27.8" lengthAdjust="spacingAndGlyphs">Buffer</text>
<path d="M713.3,762.1 L720.1,762.1 L720.1,803.5 L713.3,803.5" fill="none" stroke="#1a1a1a" stroke-width="1.5"/>
<path d="M725.20,779.50 L725.20,785.70 M722.52,781.05 L727.88,784.15 M727.88,781.05 L722.52,784.15 " stroke="#1a1a1a" stroke-width="1.15" fill="none" stroke-linecap="round"/>
<text x="0" y="0" font-size="32" stroke="#000" stroke-width="0.45" fill="#000" transform="translate(50.12,961.88) scale(0.66,0.974)">F</text>
<path d="M122.9,953.5 L122.9,1109.3 L338.0,1109.3 M117.9,1109.3 L122.9,1109.3 M117.9,1078.3 L122.9,1078.3 M117.9,1047.3 L122.9,1047.3 M117.9,1016.2 L122.9,1016.2 M117.9,985.2 L122.9,985.2 M117.9,954.2 L122.9,954.2 M123.4,1109.3 L123.4,1113.8 M194.8,1109.3 L194.8,1113.8 M266.1,1109.3 L266.1,1113.8 M338.0,1109.3 L338.0,1113.8" fill="none" stroke="#1a1a1a" stroke-width="1.6"/>
<text x="114.2" y="1113.0" font-size="10.3" text-anchor="end" textLength="5.8" lengthAdjust="spacingAndGlyphs" >0</text>
<text x="114.2" y="1082.0" font-size="10.3" text-anchor="end" textLength="26.9" lengthAdjust="spacingAndGlyphs" >20000</text>
<text x="114.2" y="1051.0" font-size="10.3" text-anchor="end" textLength="26.9" lengthAdjust="spacingAndGlyphs" >40000</text>
<text x="114.2" y="1019.9" font-size="10.3" text-anchor="end" textLength="26.9" lengthAdjust="spacingAndGlyphs" >60000</text>
<text x="114.2" y="988.9" font-size="10.3" text-anchor="end" textLength="26.9" lengthAdjust="spacingAndGlyphs" >80000</text>
<text x="114.2" y="957.9" font-size="10.3" text-anchor="end" textLength="32.2" lengthAdjust="spacingAndGlyphs" >100000</text>
<text x="123.4" y="1126.9" font-size="10.3" text-anchor="middle" textLength="16.3" lengthAdjust="spacingAndGlyphs" >450</text>
<text x="194.8" y="1126.9" font-size="10.3" text-anchor="middle" textLength="16.3" lengthAdjust="spacingAndGlyphs" >500</text>
<text x="266.1" y="1126.9" font-size="10.3" text-anchor="middle" textLength="16.3" lengthAdjust="spacingAndGlyphs" >550</text>
<text x="338.0" y="1126.9" font-size="10.3" text-anchor="middle" textLength="16.3" lengthAdjust="spacingAndGlyphs" >600</text>
<text x="0" y="0" font-size="9.8" text-anchor="middle" textLength="48" lengthAdjust="spacingAndGlyphs" transform="translate(72.7,1037.8) rotate(-90)">RFU (a.u.)</text>
<text x="231.1" y="1144.0" font-size="10.4" text-anchor="middle" textLength="74.8" lengthAdjust="spacingAndGlyphs" >Wavelength (nm)</text>
<text x="212.2" y="967.8" font-size="12.6" font-weight="bold" stroke="#1a1a1a" stroke-width="0.25" textLength="11.6" lengthAdjust="spacingAndGlyphs">Ex</text>
<text x="224.4" y="972.4" font-size="7.6" font-weight="bold" textLength="26" lengthAdjust="spacingAndGlyphs">280 nm</text>
<text x="132.3" y="1083.7" font-size="14" font-weight="bold" textLength="28" lengthAdjust="spacingAndGlyphs">37<tspan font-size="8.6" dy="-4.6">o</tspan><tspan dy="4.6">C</tspan></text>
<polyline points="123.5,1109.7 149.3,1109.5 156.4,1109.5 160.0,1109.1 165.3,1107.4 170.7,1102.9 176.0,1097.6 181.4,1092.2 186.7,1086.0 192.1,1078.0 197.4,1069.1 202.8,1061.9 206.3,1056.6 209.0,1052.1 211.7,1051.3 214.3,1051.3 217.0,1054.8 219.7,1058.4 222.3,1060.2 225.0,1063.7 227.7,1069.1 230.4,1070.8 233.0,1075.3 235.7,1078.9 238.4,1082.4 241.0,1085.1 243.7,1085.1 245.5,1080.6 248.2,1080.6 250.8,1078.9 253.5,1072.6 256.2,1065.5 258.9,1067.3 262.4,1070.0 266.0,1071.7 268.7,1078.0 271.3,1085.1 274.0,1094.0 276.7,1095.8 279.3,1097.6 282.9,1099.0 285.6,1102.0 290.0,1102.6 295.4,1102.9 300.0,1103.8 308.7,1104.7 320.3,1105.0 329.2,1105.6 337.9,1106.8" fill="none" stroke="#ff2010" stroke-width="1.68" stroke-linejoin="round" stroke-linecap="round" />
<polyline points="123.5,1109.7 149.3,1109.5 156.4,1109.3 160.0,1108.6 165.3,1106.8 170.7,1101.1 176.0,1092.2 181.4,1087.8 186.7,1083.3 192.1,1070.8 197.4,1061.9 202.8,1053.0 205.4,1048.6 208.1,1047.7 210.8,1044.1 212.5,1040.6 214.3,1044.1 217.0,1047.7 219.7,1045.0 222.3,1051.3 225.9,1058.4 229.5,1063.7 233.0,1069.1 236.6,1073.5 240.2,1077.1 243.7,1078.0 247.3,1077.1 250.0,1074.4 252.6,1068.2 255.3,1061.9 258.0,1059.3 260.6,1060.2 263.3,1059.3 266.0,1067.3 269.5,1079.8 273.1,1086.9 277.6,1092.2 281.1,1095.8 284.7,1097.6 290.0,1099.7 295.4,1101.1 300.0,1102.9 308.7,1103.8 320.3,1104.2 329.2,1104.7 337.9,1106.1" fill="none" stroke="#2244ff" stroke-width="1.68" stroke-linejoin="round" stroke-linecap="round" />
<polyline points="123.5,1109.7 149.3,1109.5 156.4,1109.3 160.0,1108.6 165.3,1106.8 170.7,1101.1 176.0,1092.2 181.4,1086.9 186.7,1079.8 190.3,1076.2 193.8,1065.5 197.4,1057.5 201.0,1050.4 204.5,1043.2 207.2,1040.6 209.9,1039.7 212.5,1038.8 214.3,1036.6 216.1,1040.6 219.7,1042.3 222.3,1050.4 225.9,1056.6 229.5,1062.8 233.0,1067.3 236.6,1071.7 240.2,1074.4 243.7,1077.1 247.3,1077.1 250.0,1074.4 252.6,1068.2 254.4,1062.8 257.1,1061.0 259.8,1056.6 262.4,1058.4 265.1,1065.5 268.7,1076.2 272.2,1082.4 275.8,1086.9 279.3,1092.2 282.9,1096.7 286.5,1098.5 291.8,1099.7 295.4,1101.1 300.0,1102.6 308.7,1102.9 320.3,1102.9 329.2,1103.8 337.9,1105.6" fill="none" stroke="#0e9a0e" stroke-width="1.68" stroke-linejoin="round" stroke-linecap="round" />
<polyline points="123.5,1109.7 149.3,1109.5 156.4,1109.1 160.0,1108.4 165.3,1106.6 170.7,1100.8 176.0,1093.1 181.4,1086.0 186.7,1077.6 192.1,1067.3 197.4,1054.8 202.8,1033.4 206.3,1028.1 209.9,1026.0 212.0,1022.8 213.4,1025.4 215.2,1025.4 217.0,1028.1 221.5,1035.2 224.1,1041.5 227.7,1047.7 231.3,1053.9 234.8,1059.8 238.4,1063.7 241.9,1067.3 244.6,1069.1 247.3,1067.3 250.0,1063.7 252.6,1056.6 256.2,1043.2 258.9,1038.8 260.6,1038.8 262.4,1042.3 265.1,1053.0 268.7,1067.3 272.2,1077.6 275.8,1085.1 279.3,1091.3 282.9,1094.9 286.5,1096.7 291.8,1098.1 295.4,1099.0 300.0,1099.9 308.7,1100.4 316.8,1099.7 323.9,1101.8 331.0,1102.6 337.9,1105.0" fill="none" stroke="#ff44ff" stroke-width="1.68" stroke-linejoin="round" stroke-linecap="round" />
<polyline points="123.5,1109.7 149.3,1109.5 156.4,1109.1 160.0,1108.3 165.3,1106.5 170.7,1100.2 176.0,1092.2 181.4,1085.1 186.7,1076.2 192.1,1065.5 197.4,1053.0 202.8,1031.7 206.3,1024.5 209.9,1020.1 212.5,1017.4 214.9,1012.1 216.6,1018.3 218.8,1024.5 221.5,1031.7 224.1,1038.8 227.7,1045.9 231.3,1053.0 234.8,1058.4 238.4,1062.8 241.9,1066.4 244.6,1067.8 247.3,1066.4 250.0,1062.8 252.6,1054.8 256.2,1041.5 258.9,1037.0 260.6,1036.1 262.4,1040.6 265.1,1051.3 268.7,1065.5 272.2,1076.2 275.8,1084.2 279.3,1090.4 282.9,1094.0 286.5,1095.8 291.8,1097.6 295.4,1098.5 300.0,1099.3 308.7,1099.7 316.8,1099.0 323.9,1101.1 331.0,1102.0 337.9,1104.7" fill="none" stroke="#8b1a8b" stroke-width="1.68" stroke-linejoin="round" stroke-linecap="round" />
<polyline points="123.5,1109.7 149.3,1109.5 156.4,1109.0 160.0,1107.9 165.3,1105.6 170.7,1098.5 176.0,1088.7 181.4,1076.2 184.9,1068.2 188.5,1054.8 192.1,1043.2 194.7,1032.5 196.5,1030.8 199.2,1017.4 202.8,1001.4 206.3,998.7 209.9,991.6 212.5,987.1 214.9,985.0 216.1,990.7 217.4,999.6 219.7,1004.9 222.3,1012.1 224.1,1018.3 226.8,1027.2 230.4,1033.4 233.0,1038.8 235.7,1044.1 238.4,1049.5 241.0,1053.0 243.7,1055.7 246.4,1057.0 249.1,1049.5 251.7,1040.6 254.4,1033.4 257.1,1027.7 259.8,1027.2 262.4,1026.3 264.2,1026.7 266.9,1038.8 270.4,1058.4 274.0,1072.6 277.6,1078.0 281.1,1083.3 284.7,1087.8 288.3,1090.1 291.8,1092.2 295.4,1094.9 298.0,1094.4 300.0,1096.7 308.7,1096.7 313.2,1094.0 316.8,1095.8 320.3,1095.8 324.8,1099.3 329.2,1099.7 333.7,1101.1 337.9,1104.2" fill="none" stroke="#1a1a1a" stroke-width="1.68" stroke-linejoin="round" stroke-linecap="round" />
<line x1="321.9" y1="957.9" x2="338.9" y2="957.9" stroke="#ff2010" stroke-width="1.7"/>
<text x="347.4" y="961.5" font-size="10.4" textLength="35.6" lengthAdjust="spacingAndGlyphs">150 min</text>
<line x1="321.9" y1="976.0" x2="338.9" y2="976.0" stroke="#2244ff" stroke-width="1.7"/>
<text x="347.4" y="979.6" font-size="10.4" textLength="35.6" lengthAdjust="spacingAndGlyphs">120 min</text>
<line x1="321.9" y1="994.3" x2="338.9" y2="994.3" stroke="#0e9a0e" stroke-width="1.7"/>
<text x="347.4" y="997.9" font-size="10.4" textLength="30.0" lengthAdjust="spacingAndGlyphs">90 min</text>
<line x1="321.9" y1="1012.6" x2="338.9" y2="1012.6" stroke="#ff44ff" stroke-width="1.7"/>
<text x="347.4" y="1016.2" font-size="10.4" textLength="30.0" lengthAdjust="spacingAndGlyphs">60 min</text>
<line x1="321.9" y1="1031.0" x2="338.9" y2="1031.0" stroke="#8b1a8b" stroke-width="1.7"/>
<text x="347.4" y="1034.6" font-size="10.4" textLength="30.0" lengthAdjust="spacingAndGlyphs">30 min</text>
<line x1="321.9" y1="1049.1" x2="338.9" y2="1049.1" stroke="#1a1a1a" stroke-width="1.7"/>
<text x="347.4" y="1052.7" font-size="10.4" textLength="24.4" lengthAdjust="spacingAndGlyphs">0 min</text>
<path d="M472.7,957.8 L472.7,1107.8 L688.0,1107.8 M467.7,1107.8 L472.7,1107.8 M467.7,1077.9 L472.7,1077.9 M467.7,1048.1 L472.7,1048.1 M467.7,1018.2 L472.7,1018.2 M467.7,988.4 L472.7,988.4 M467.7,958.5 L472.7,958.5 M477.1,1107.8 L477.1,1112.3 M518.9,1107.8 L518.9,1112.3 M560.6,1107.8 L560.6,1112.3 M602.4,1107.8 L602.4,1112.3 M643.6,1107.8 L643.6,1112.3 M684.9,1107.8 L684.9,1112.3" fill="none" stroke="#1a1a1a" stroke-width="1.6"/>
<text x="464.7" y="1111.5" font-size="10.3" text-anchor="end" textLength="5.9" lengthAdjust="spacingAndGlyphs" >0</text>
<text x="464.7" y="1081.6" font-size="10.3" text-anchor="end" textLength="27.6" lengthAdjust="spacingAndGlyphs" >20000</text>
<text x="464.7" y="1051.8" font-size="10.3" text-anchor="end" textLength="27.6" lengthAdjust="spacingAndGlyphs" >40000</text>
<text x="464.7" y="1021.9" font-size="10.3" text-anchor="end" textLength="27.6" lengthAdjust="spacingAndGlyphs" >60000</text>
<text x="464.7" y="992.1" font-size="10.3" text-anchor="end" textLength="27.6" lengthAdjust="spacingAndGlyphs" >80000</text>
<text x="464.7" y="962.2" font-size="10.3" text-anchor="end" textLength="33.1" lengthAdjust="spacingAndGlyphs" >100000</text>
<text x="477.1" y="1124.2" font-size="10.3" text-anchor="middle" textLength="16.8" lengthAdjust="spacingAndGlyphs" >500</text>
<text x="518.9" y="1124.2" font-size="10.3" text-anchor="middle" textLength="16.8" lengthAdjust="spacingAndGlyphs" >510</text>
<text x="560.6" y="1124.2" font-size="10.3" text-anchor="middle" textLength="16.8" lengthAdjust="spacingAndGlyphs" >520</text>
<text x="602.4" y="1124.2" font-size="10.3" text-anchor="middle" textLength="16.8" lengthAdjust="spacingAndGlyphs" >530</text>
<text x="643.6" y="1124.2" font-size="10.3" text-anchor="middle" textLength="16.8" lengthAdjust="spacingAndGlyphs" >540</text>
<text x="684.9" y="1124.2" font-size="10.3" text-anchor="middle" textLength="16.8" lengthAdjust="spacingAndGlyphs" >550</text>
<text x="0" y="0" font-size="9.8" text-anchor="middle" textLength="48" lengthAdjust="spacingAndGlyphs" transform="translate(425.5,1037.5) rotate(-90)">RFU (a.u.)</text>
<text x="578.6" y="1144.9" font-size="10.4" text-anchor="middle" textLength="76.0" lengthAdjust="spacingAndGlyphs" >Wavelength (nm)</text>
<text x="559.9" y="968.3" font-size="12.6" font-weight="bold" stroke="#1a1a1a" stroke-width="0.25" textLength="11.6" lengthAdjust="spacingAndGlyphs">Ex</text>
<text x="572.1" y="972.9" font-size="7.6" font-weight="bold" textLength="26" lengthAdjust="spacingAndGlyphs">470 nm</text>
<text x="484.5" y="1083.7" font-size="14" font-weight="bold" textLength="28" lengthAdjust="spacingAndGlyphs">37<tspan font-size="8.6" dy="-4.6">o</tspan><tspan dy="4.6">C</tspan></text>
<polyline points="477.3,1065.0 485.5,1060.6 494.0,1052.4 502.2,1048.0 510.4,1044.2 518.3,1043.1 527.1,1042.5 535.0,1043.6 543.2,1047.2 551.9,1050.1 560.1,1055.4 576.8,1064.1 592.9,1071.5 601.7,1074.4 617.8,1077.9 642.7,1081.7 658.8,1084.0 667.5,1086.1 676.3,1087.0 685.1,1088.4" fill="none" stroke="#ff2010" stroke-width="1.68" stroke-linejoin="round" stroke-linecap="round" />
<polyline points="477.3,1061.2 485.5,1055.9 494.0,1047.2 502.2,1042.2 510.4,1037.8 518.3,1035.7 527.1,1035.7 535.0,1036.3 543.2,1040.1 551.9,1043.6 560.1,1049.5 576.8,1059.7 592.9,1067.1 601.7,1070.0 617.8,1074.4 642.7,1078.8 658.8,1081.1 667.5,1083.2 676.3,1084.6 685.1,1086.1" fill="none" stroke="#2244ff" stroke-width="1.68" stroke-linejoin="round" stroke-linecap="round" />
<polyline points="477.3,1053.0 485.5,1045.1 494.0,1036.3 502.2,1031.4 510.4,1026.7 518.3,1023.2 527.1,1024.9 535.0,1025.5 543.2,1030.5 551.9,1034.9 560.1,1040.7 576.8,1053.9 592.9,1062.7 601.7,1066.5 617.8,1070.6 642.7,1074.4 658.8,1077.3 667.5,1078.8 676.3,1081.1 685.1,1083.2" fill="none" stroke="#0e9a0e" stroke-width="1.68" stroke-linejoin="round" stroke-linecap="round" />
<polyline points="477.3,1048.9 485.5,1041.3 494.0,1031.4 502.2,1024.6 510.4,1019.7 518.3,1016.7 527.1,1016.7 535.0,1017.9 543.2,1022.6 551.9,1027.6 560.1,1034.9 576.8,1048.9 592.9,1058.3 601.7,1062.7 617.8,1067.1 642.7,1071.5 658.8,1074.4 667.5,1075.8 676.3,1077.9 685.1,1079.6" fill="none" stroke="#ff44ff" stroke-width="1.68" stroke-linejoin="round" stroke-linecap="round" />
<polyline points="477.3,1041.3 485.5,1033.4 494.0,1021.7 502.2,1014.4 510.4,1007.9 518.3,1006.2 527.1,1005.6 535.0,1007.9 543.2,1012.9 551.9,1017.9 560.1,1025.5 576.8,1041.3 592.9,1051.8 601.7,1055.9 617.8,1061.8 642.7,1068.5 658.8,1071.5 667.5,1073.5 676.3,1075.3 685.1,1077.9" fill="none" stroke="#8b1a8b" stroke-width="1.68" stroke-linejoin="round" stroke-linecap="round" />
<polyline points="477.3,1028.4 485.5,1019.4 494.0,1005.0 502.2,998.3 510.4,991.8 518.3,988.6 527.1,989.5 535.0,991.6 543.2,999.2 551.9,1007.1 560.1,1014.4 576.8,1032.5 592.9,1043.1 601.7,1048.9 617.8,1055.4 642.7,1062.7 658.8,1066.5 667.5,1068.5 676.3,1070.6 685.1,1073.5" fill="none" stroke="#1a1a1a" stroke-width="1.68" stroke-linejoin="round" stroke-linecap="round" />
<line x1="673.1" y1="963.2" x2="689.7" y2="963.2" stroke="#ff2010" stroke-width="1.7"/>
<text x="698.1" y="966.8" font-size="10.4" textLength="36.9" lengthAdjust="spacingAndGlyphs">150 min</text>
<line x1="673.1" y1="980.7" x2="689.7" y2="980.7" stroke="#2244ff" stroke-width="1.7"/>
<text x="698.1" y="984.3" font-size="10.4" textLength="36.9" lengthAdjust="spacingAndGlyphs">120 min</text>
<line x1="673.1" y1="998.3" x2="689.7" y2="998.3" stroke="#0e9a0e" stroke-width="1.7"/>
<text x="698.1" y="1001.9" font-size="10.4" textLength="30.8" lengthAdjust="spacingAndGlyphs">90 min</text>
<line x1="673.1" y1="1015.9" x2="689.7" y2="1015.9" stroke="#ff44ff" stroke-width="1.7"/>
<text x="698.1" y="1019.5" font-size="10.4" textLength="30.8" lengthAdjust="spacingAndGlyphs">60 min</text>
<line x1="673.1" y1="1033.4" x2="689.7" y2="1033.4" stroke="#8b1a8b" stroke-width="1.7"/>
<text x="698.1" y="1037.0" font-size="10.4" textLength="30.8" lengthAdjust="spacingAndGlyphs">30 min</text>
<line x1="673.1" y1="1051.0" x2="689.7" y2="1051.0" stroke="#1a1a1a" stroke-width="1.7"/>
<text x="698.1" y="1054.6" font-size="10.4" textLength="24.9" lengthAdjust="spacingAndGlyphs">0 min</text>
</svg></body></html>
